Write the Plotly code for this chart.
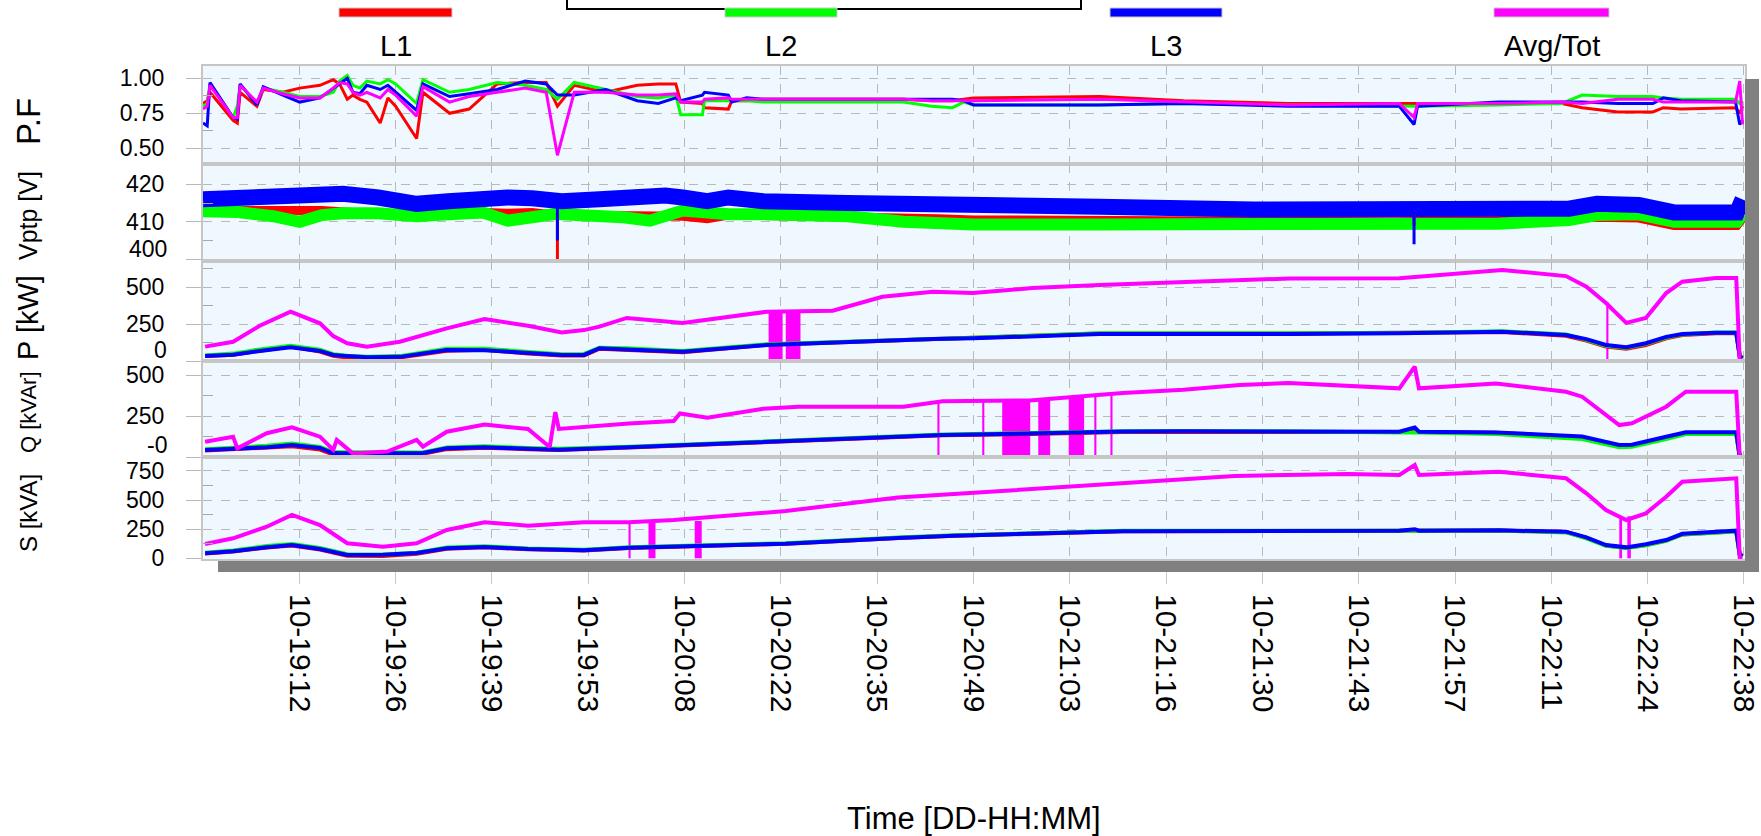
import plotly.graph_objects as go
from plotly.subplots import make_subplots

# ---------------- data (time in minutes after 10-18:58:15) ----------------
tick_labels = ["10-19:12", "10-19:26", "10-19:39", "10-19:53", "10-20:08", "10-20:22",
               "10-20:35", "10-20:49", "10-21:03", "10-21:16", "10-21:30", "10-21:43",
               "10-21:57", "10-22:11", "10-22:24", "10-22:38"]
tick_minutes = [13.75, 27.5, 41.25, 55.0, 68.75, 82.5, 96.25, 110.0, 123.75, 137.5,
                151.25, 165.0, 178.75, 192.5, 206.25, 220.0]

series_names = ["L1", "L2", "L3", "Avg/Tot"]
series_colors = ["#ff0000", "#00ff00", "#0000ff", "#ff00ff"]

# Power factor
pf_t = [0.0, 0.6, 1.0, 4.3, 4.9, 5.3, 7.7, 8.6, 11.4, 13.8, 16.7, 18.6, 19.5, 20.6, 21.4,
        22.4, 23.4, 25.3, 26.4, 27.5, 30.5, 31.4, 35.2, 38.0, 42.0, 46.0, 49.0, 50.6, 53.0,
        57.5, 62.0, 65.0, 67.5, 68.2, 71.3, 71.6, 75.0, 75.5, 77.6, 80.0, 90.0, 100.0,
        104.0, 107.0, 108.6, 110.0, 128.0, 140.0, 155.0, 170.8, 172.9, 173.4, 185.0,
        194.0, 196.9, 202.0, 207.0, 208.5, 211.0, 218.8, 219.4, 219.8]
pf_l1 = [0.82, 0.84, 0.90, 0.70, 0.68, 0.90, 0.80, 0.92, 0.90, 0.93, 0.95, 0.99, 0.96, 0.85, 0.88,
         0.85, 0.83, 0.68, 0.86, 0.80, 0.57, 0.90, 0.75, 0.78, 0.96, 0.97, 0.97, 0.80, 0.95,
         0.90, 0.95, 0.96, 0.96, 0.83, 0.82, 0.79, 0.78, 0.84, 0.84, 0.85, 0.85, 0.85,
         0.84, 0.84, 0.85, 0.86, 0.87, 0.84, 0.82, 0.82, 0.82, 0.82, 0.82,
         0.82, 0.79, 0.76, 0.76, 0.79, 0.78, 0.79, 0.75, 0.80]
pf_l2 = [0.80, 0.82, 0.96, 0.72, 0.80, 0.95, 0.82, 0.93, 0.90, 0.87, 0.87, 0.90, 0.98, 1.02, 0.95,
         0.93, 0.98, 0.96, 0.99, 0.96, 0.82, 0.99, 0.90, 0.92, 0.97, 0.95, 0.92, 0.85, 0.97,
         0.92, 0.87, 0.86, 0.88, 0.74, 0.74, 0.84, 0.84, 0.84, 0.84, 0.83, 0.83, 0.83,
         0.80, 0.79, 0.83, 0.81, 0.81, 0.82, 0.81, 0.80, 0.80, 0.80, 0.81,
         0.82, 0.88, 0.87, 0.87, 0.86, 0.85, 0.85, 0.82, 0.84]
pf_l3 = [0.68, 0.66, 0.97, 0.72, 0.71, 0.96, 0.81, 0.94, 0.88, 0.83, 0.86, 0.93, 0.96, 1.00, 0.90,
         0.89, 0.95, 0.92, 0.95, 0.90, 0.77, 0.96, 0.87, 0.89, 0.92, 0.98, 0.96, 0.88, 0.88,
         0.92, 0.84, 0.82, 0.86, 0.84, 0.88, 0.90, 0.88, 0.83, 0.86, 0.85, 0.85, 0.85,
         0.85, 0.85, 0.84, 0.81, 0.81, 0.82, 0.80, 0.80, 0.67, 0.80, 0.83,
         0.83, 0.83, 0.82, 0.82, 0.86, 0.84, 0.83, 0.67, 0.70]
pf_avg = [0.78, 0.80, 0.95, 0.72, 0.72, 0.95, 0.83, 0.93, 0.89, 0.86, 0.86, 0.93, 0.97, 0.96, 0.90,
          0.88, 0.90, 0.86, 0.92, 0.88, 0.73, 0.94, 0.83, 0.87, 0.90, 0.93, 0.90, 0.45, 0.90,
          0.90, 0.88, 0.88, 0.89, 0.83, 0.83, 0.85, 0.86, 0.85, 0.85, 0.85, 0.85, 0.85,
          0.84, 0.84, 0.84, 0.84, 0.85, 0.83, 0.81, 0.82, 0.72, 0.82, 0.82,
          0.83, 0.82, 0.85, 0.85, 0.83, 0.83, 0.83, 0.98, 0.67]

# Phase-to-phase voltage (band centres)
v_t = [0, 5, 10, 13.8, 17, 20, 25, 30.5, 35, 40, 43.5, 47, 50, 51.2, 56.6, 60, 63.8, 66, 68.5,
       72, 75, 80, 92, 100, 105, 110, 128, 150, 170, 185, 195, 199, 205, 210, 219, 219.8]
v_l1 = [413, 412.8, 412.8, 413, 413, 412.5, 412, 411.5, 412, 412.5, 412.3, 412.5, 411.8, 411.8,
        412, 411.8, 411.5, 412, 411.5, 410.8, 411.8, 411.7, 411.5, 411, 410.8, 410.5, 410.2,
        410, 410, 410.3, 411, 411.2, 411, 409, 409, 411]
v_l2 = [412.8, 412.6, 411.5, 410, 411.8, 412.3, 412.3, 411.5, 412, 412.5, 410.3, 411.5, 412,
        412, 412, 411.2, 410.3, 411.5, 413, 412.5, 412, 412, 411.5, 410, 409.3, 409.3, 409.3,
        409.2, 409.2, 409.5, 410.5, 411.8, 412, 410, 410, 412]
v_l3 = [416, 416.3, 417, 417.5, 417.5, 417.5, 416.5, 414.8, 415.5, 416.3, 416.5, 416.3, 415.5,
        415.5, 416, 416.5, 417, 417, 416.5, 415.5, 416.5, 415.5, 415, 414.6, 414.5, 414.3, 414,
        413.3, 413, 413.2, 413.5, 414.8, 414.5, 412.5, 412.5, 416]
v_dip_t = [50.6, 172.9]
v_dip_l1 = [400, 409]
v_dip_l3 = [405, 404]

# Active power
p_t = [0.3, 4.3, 8.1, 12.5, 16.7, 18.6, 20.6, 23.4, 28.1, 34.8, 40.2, 46.4, 51.2, 54.4, 56.6,
       60.5, 68.5, 80.5, 89.9, 97.0, 104.2, 109.9, 118.4, 128.0, 155.2, 170.8, 185.5, 194.6,
       197.5, 200.3, 203.2, 206.0, 208.9, 211.2, 216.0, 218.9, 219.4, 219.8]
p_avg = [99, 132, 240, 335, 257, 170, 122, 99, 132, 223, 286, 240, 195, 211, 234, 293, 259, 335,
         342, 436, 470, 461, 495, 516, 560, 561, 617, 576, 504, 394, 260, 293, 461, 538, 563,
         563, 0, 0]
p_l3 = [36, 45, 70, 95, 70, 43, 35, 27, 30, 76, 74, 55, 43, 43, 88, 80, 65, 110, 126, 140, 150,
        155, 166, 184, 185, 189, 200, 178, 150, 110, 95, 122, 165, 185, 193, 193, 31, 20]
p_l2 = [40, 52, 80, 105, 78, 48, 38, 30, 35, 85, 84, 62, 48, 50, 92, 88, 70, 115, 130, 145, 155,
        160, 172, 190, 190, 192, 203, 182, 145, 105, 92, 118, 160, 182, 195, 195, 40, 25]
p_l1 = [35, 44, 72, 100, 66, 38, 25, 15, 25, 72, 78, 52, 40, 40, 85, 78, 62, 112, 128, 142, 155,
        160, 172, 188, 188, 190, 198, 172, 140, 100, 85, 110, 155, 178, 190, 190, 35, 25]
p_gap_t = [81.75, 84.25, 200.5]
p_gap_w = [2.0, 2.1, 0.3]
p_gap_top = [330, 335, 400]

# Reactive power
q_t = [0.3, 4.3, 4.9, 9.1, 12.7, 16.7, 18.6, 19.1, 21.4, 26.3, 30.5, 31.4, 34.8, 40.2, 46.4,
       49.5, 50.3, 50.8, 60.8, 67.2, 68.1, 72.0, 80.0, 85.0, 100.0, 105.6, 118.0, 125.0, 131.3,
       140.0, 148.0, 155.0, 170.8, 173.0, 173.6, 184.6, 194.6, 196.9, 202.2, 204.0, 208.9,
       211.7, 218.9, 219.4, 219.8]
q_avg = [93, 124, 53, 145, 181, 124, 43, 104, 22, 33, 104, 63, 154, 198, 171, 61, 274, 171, 205,
         220, 266, 240, 294, 307, 307, 340, 345, 370, 390, 410, 439, 451, 419, 551, 419, 449,
         398, 368, 195, 206, 307, 398, 398, 0, 0]
q_l3 = [43, 50, 50, 60, 73, 55, 22, 25, 22, 22, 22, 25, 53, 60, 50, 45, 45, 45, 60, 70, 72, 80,
        95, 100, 125, 135, 143, 150, 155, 157, 157, 157, 154, 180, 154, 150, 134, 125, 73, 75,
        124, 151, 151, 0, 10]
q_l2 = [48, 55, 55, 68, 82, 62, 30, 30, 28, 25, 25, 28, 58, 65, 55, 50, 50, 50, 62, 72, 75, 82,
        97, 102, 128, 138, 146, 152, 157, 158, 158, 157, 150, 150, 150, 140, 120, 110, 60, 62,
        110, 140, 140, 0, 10]
q_l1 = [40, 47, 47, 55, 65, 45, 15, 18, 15, 15, 18, 20, 48, 57, 48, 42, 42, 42, 58, 68, 70, 78,
        93, 98, 122, 132, 140, 148, 152, 152, 153, 155, 152, 152, 152, 148, 128, 118, 68, 70,
        118, 145, 145, 0, 10]
q_gap_t = [105.0, 111.4, 116.1, 120.1, 124.7, 127.4, 129.7]
q_gap_w = [0.3, 0.3, 4.0, 1.7, 2.2, 0.3, 0.3]
q_gap_top = [335, 340, 345, 350, 360, 370, 380]

# Apparent power
s_t = [0.3, 4.3, 9.1, 12.7, 16.7, 20.6, 25.7, 30.5, 34.8, 40.2, 46.4, 54.4, 60.8, 67.2, 83.2,
       99.2, 107.2, 131.3, 147.3, 163.4, 170.8, 173.0, 173.6, 185.0, 194.6, 197.5, 200.3,
       203.2, 206.0, 208.9, 211.2, 218.9, 219.4, 219.8]
s_avg = [123, 172, 271, 372, 286, 129, 100, 129, 243, 310, 280, 310, 310, 329, 406, 522, 552,
         647, 707, 724, 716, 801, 716, 744, 687, 558, 415, 329, 386, 529, 658, 687, 0, 0]
s_l3 = [43, 60, 95, 114, 80, 28, 30, 45, 86, 97, 80, 69, 90, 100, 126, 175, 194, 233, 235, 235,
        237, 250, 237, 240, 229, 180, 114, 94, 120, 157, 210, 237, 30, 20]
s_l2 = [48, 68, 105, 122, 88, 35, 32, 48, 92, 103, 85, 74, 95, 104, 130, 178, 197, 236, 237, 237,
        238, 238, 238, 238, 222, 172, 108, 88, 112, 150, 205, 230, 30, 20]
s_l1 = [42, 58, 92, 110, 75, 22, 20, 38, 82, 95, 78, 66, 88, 98, 125, 174, 193, 232, 234, 232,
        235, 235, 235, 238, 226, 176, 110, 90, 115, 152, 205, 232, 30, 20]
s_gap_t = [60.9, 64.1, 70.7, 202.4, 203.6]
s_gap_w = [0.3, 1.0, 1.0, 0.4, 0.5]
s_gap_top = [310, 312, 320, 350, 360]

# ---------------- layout geometry ----------------
W, H = 1761, 836
L, R, T, B = 203, 1745, 66, 559
FONT = "Liberation Sans, Arial, sans-serif"
YTICK_SIZE = 23


def px(x):
    return (x - L) / (R - L)


def py(y):
    return (B - y) / (B - T)


panel_px = [(66, 163.5), (163.5, 261), (261, 361.3), (361.3, 457), (457, 559)]
ranges = [[0.391, 1.088], [399.5, 425.6], [0, 678], [0, 584], [-6, 870]]
tickvals = [[0.5, 0.75, 1.0], [400, 410, 420], [0, 250, 500], [0, 250, 500], [0, 250, 500, 750]]
ticktexts = [["0.50", "0.75", "1.00"], ["", "410", "420"], ["", "250", "500"],
             ["", "250", "500"], ["0", "250", "500", "750"]]
minor_vals = [[0.625, 0.875], [405, 415], [125, 375, 625], [125, 375], [125, 375, 625]]

fig = make_subplots(rows=5, cols=1, shared_xaxes=True, vertical_spacing=0)

panels = [
    (pf_t, [pf_l1, pf_l2, pf_l3, pf_avg], [3, 3, 3, 3]),
    (v_t, [v_l1, v_l2, v_l3], [9, 12, 16]),
    (p_t, [p_l1, p_l2, p_l3, p_avg], [4, 4, 4, 4]),
    (q_t, [q_l1, q_l2, q_l3, q_avg], [4, 4, 4, 4]),
    (s_t, [s_l1, s_l2, s_l3, s_avg], [4, 4, 4, 4]),
]
for r, (tt, ys, widths) in enumerate(panels, start=1):
    for k, (yy, w) in enumerate(zip(ys, widths)):
        fig.add_trace(go.Scatter(x=tt, y=yy, mode="lines", name=series_names[k],
                                 line=dict(color=series_colors[k], width=w),
                                 hoverinfo="skip"), row=r, col=1)

# voltage dips (thin)
for t0, lo1, lo3 in zip(v_dip_t, v_dip_l1, v_dip_l3):
    fig.add_trace(go.Scatter(x=[t0, t0], y=[412, lo1], mode="lines",
                             line=dict(color=series_colors[0], width=3)), row=2, col=1)
    fig.add_trace(go.Scatter(x=[t0, t0], y=[415, lo3], mode="lines",
                             line=dict(color=series_colors[2], width=3)), row=2, col=1)

# magenta data gaps (drops to zero)
for r, (gt, gw, gtop) in zip([3, 4, 5], [(p_gap_t, p_gap_w, p_gap_top),
                                         (q_gap_t, q_gap_w, q_gap_top),
                                         (s_gap_t, s_gap_w, s_gap_top)]):
    fig.add_trace(go.Bar(x=gt, y=gtop, width=gw, base=0, marker_color="#ff00ff",
                         marker_line_width=0, hoverinfo="skip"), row=r, col=1)

grid_col = "#b9b9b9"
border_col = "#c6c6c6"
for i in range(5):
    top, bot = panel_px[i]
    yk = "yaxis" if i == 0 else f"yaxis{i+1}"
    xk = "xaxis" if i == 0 else f"xaxis{i+1}"
    fig.layout[yk].update(
        domain=[py(bot), py(top)], range=ranges[i], tickmode="array", automargin=False,
        tickvals=tickvals[i], ticktext=ticktexts[i], showgrid=True, gridcolor=grid_col,
        griddash="dash", gridwidth=1, zeroline=False, showline=True, mirror=True,
        linecolor=border_col, linewidth=2, ticks="outside", ticklen=15, tickcolor=grid_col,
        ticklabelstandoff=17, tickfont=dict(family=FONT, size=YTICK_SIZE, color="#000"),
        minor=dict(tickvals=minor_vals[i], ticks="inside", ticklen=10, tickcolor="#a8a8a8",
                   showgrid=False),
    )
    last = (i == 4)
    fig.layout[xk].update(
        range=[0, 220.15], tickmode="array", tickvals=tick_minutes, ticktext=tick_labels,
        automargin=False,
        showgrid=True, gridcolor=grid_col, griddash="dash", gridwidth=1, zeroline=False,
        showline=True, mirror=True, linecolor=border_col, linewidth=2,
        ticks="outside" if last else "", ticklen=23, tickcolor="#c8c8c8",
        showticklabels=last, tickangle=90, ticklabelstandoff=4, ticklabeloverflow="allow",
        tickfont=dict(family=FONT, size=30, color="#000"),
    )

shapes = []
# drop shadow
shapes.append(dict(type="rect", xref="paper", yref="paper", x0=px(1745), x1=px(1759),
                   y0=py(572), y1=py(79), fillcolor="#808080", line_width=0, layer="above"))
shapes.append(dict(type="rect", xref="paper", yref="paper", x0=px(218), x1=px(1759),
                   y0=py(572), y1=py(561), fillcolor="#808080", line_width=0, layer="above"))
# truncated title box
shapes.append(dict(type="rect", xref="paper", yref="paper", x0=px(567), x1=px(1081),
                   y0=py(9), y1=py(-6), fillcolor="white", line=dict(color="black", width=2)))
# legend swatches
leg_x = [(339, 452), (725, 837), (1110, 1222), (1494, 1609)]
for (x0, x1), c in zip(leg_x, series_colors):
    shapes.append(dict(type="rect", xref="paper", yref="paper", x0=px(x0), x1=px(x1),
                       y0=py(17), y1=py(8), fillcolor=c, line=dict(color="#c8c8c8", width=1)))

ann = []
for (x0, x1), name in zip(leg_x, series_names):
    ann.append(dict(text=name, xref="paper", yref="paper", x=px((x0 + x1) / 2), y=py(46),
                    showarrow=False, font=dict(family=FONT, size=29, color="#000"),
                    xanchor="center", yanchor="middle"))
ytitles = [("P.F", 122, 33), ("Vptp [V]", 216, 25), ("P [kW]", 318, 29),
           ("Q [kVAr]", 412, 22), ("S [kVA]", 513, 24)]
for txt, yc, fs in ytitles:
    ann.append(dict(text=txt, xref="paper", yref="paper", x=px(28), y=py(yc), textangle=-90,
                    showarrow=False, font=dict(family=FONT, size=fs, color="#000"),
                    xanchor="center", yanchor="middle"))
for txt, yc in [("400", 249), ("0", 350), ("-0", 445)]:
    ann.append(dict(text=txt, xref="paper", yref="paper", x=px(169), y=py(yc),
                    showarrow=False, font=dict(family=FONT, size=YTICK_SIZE, color="#000"),
                    xanchor="right", yanchor="middle"))
ann.append(dict(text="Time [DD-HH:MM]", xref="paper", yref="paper", x=px(974), y=py(818),
                showarrow=False, font=dict(family=FONT, size=31, color="#000"),
                xanchor="center", yanchor="middle"))

fig.update_layout(
    width=W, height=H, margin=dict(l=L, r=W - R, t=T, b=H - B, pad=0, autoexpand=False),
    paper_bgcolor="white", plot_bgcolor="#f0f8ff", showlegend=False,
    barmode="overlay", shapes=shapes, annotations=ann,
    font=dict(family=FONT, color="#000"),
)

fig.write_html("out.html", config={"displayModeBar": False},
               post_script="document.body.style.margin='0';document.body.style.overflow='hidden';")
